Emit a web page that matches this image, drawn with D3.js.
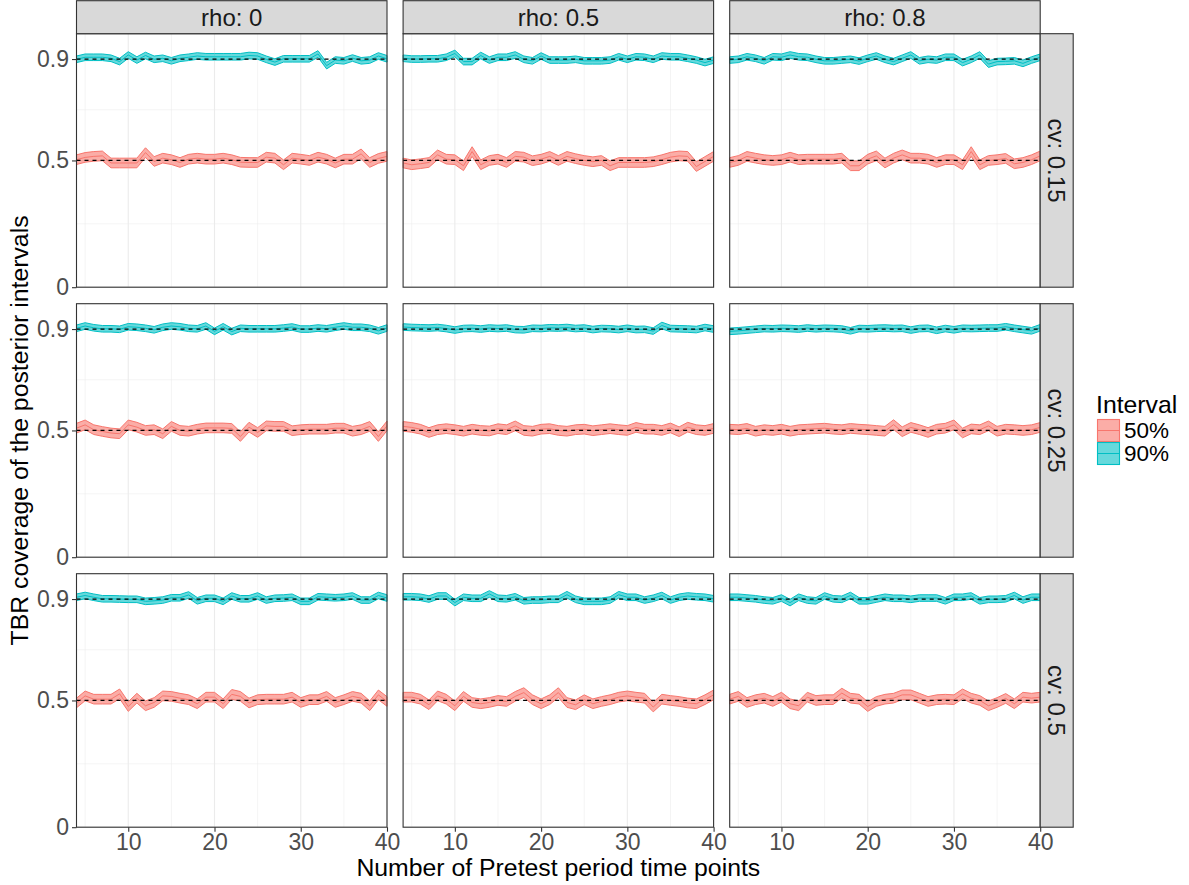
<!DOCTYPE html>
<html>
<head>
<meta charset="utf-8">
<script src="https://cdn.jsdelivr.net/npm/d3@7"></script>
<style>
  body { margin: 0; background: #fff; }
  svg { display: block; }
  text { font-family: "Liberation Sans", Arial, sans-serif; }
</style>
</head>
<body>
<svg id="chart" width="1189" height="885"></svg>
<script>

//
// Data
//

const pretestPoints = [4, 5, 6, 7, 8, 9, 10, 11, 12, 13, 14, 15, 16, 17, 18, 19, 20, 21, 22,
  23, 24, 25, 26, 27, 28, 29, 30, 31, 32, 33, 34, 35, 36, 37, 38, 39, 40];

const rhoLevels = ['0', '0.5', '0.8'];      // facet columns
const cvLevels = ['0.15', '0.25', '0.5'];   // facet rows
const intervalLevels = ['50%', '90%'];
const nominalCoverage = [0.5, 0.9];         // dashed reference lines
const bandHalfWidth = [0.019, 0.013];       // ribbon half width per interval

const xTickValues = [10, 20, 30, 40];
const xMinorValues = [5, 15, 25, 35];
const yTickValues = [0, 0.5, 0.9];
const yTickLabels = ['0', '0.5', '0.9'];
const yMinorValues = [0.25, 0.7];

// coverage of the 50% intervals
const cov50_cv015_rho0 = [.503,.512,.516,.518,.490,.490,.490,.490,.531,.496,.509,.503,.492,.505,.509,.505,.505,.509,.503,.493,.492,.492,.513,.509,.483,.509,.505,.500,.513,.505,.490,.505,.505,.526,.492,.508,.516];
const cov50_cv015_rho05 = [.490,.483,.487,.492,.522,.505,.503,.479,.535,.483,.500,.505,.492,.516,.513,.499,.505,.516,.500,.516,.507,.500,.495,.500,.479,.492,.492,.492,.492,.495,.503,.513,.518,.516,.476,.496,.516];
const cov50_cv015_rho08 = [.492,.500,.516,.509,.503,.500,.503,.513,.503,.505,.505,.505,.505,.509,.479,.479,.505,.518,.490,.509,.522,.509,.509,.505,.492,.503,.503,.483,.535,.483,.500,.503,.508,.487,.492,.503,.518];
const cov50_cv025_rho0 = [.509,.522,.503,.496,.490,.487,.522,.513,.500,.503,.487,.516,.500,.497,.505,.510,.510,.510,.508,.476,.513,.492,.518,.516,.516,.499,.503,.505,.505,.505,.509,.509,.497,.503,.516,.476,.518];
const cov50_cv025_rho05 = [.516,.512,.505,.492,.503,.507,.503,.497,.505,.500,.498,.507,.503,.518,.500,.497,.505,.507,.500,.497,.503,.505,.499,.503,.507,.503,.500,.512,.505,.505,.500,.510,.495,.513,.503,.500,.508];
const cov50_cv025_rho08 = [.505,.503,.508,.497,.503,.500,.505,.497,.503,.505,.507,.509,.505,.503,.508,.505,.503,.500,.497,.523,.495,.512,.503,.492,.505,.509,.522,.490,.506,.503,.518,.497,.505,.503,.500,.503,.512];
const cov50_cv05_rho0 = [.490,.518,.505,.505,.505,.526,.476,.509,.479,.492,.518,.516,.509,.503,.487,.513,.513,.487,.524,.516,.490,.503,.505,.505,.505,.513,.492,.503,.503,.516,.492,.503,.516,.509,.479,.522,.496];
const cov50_cv05_rho05 = [.513,.513,.505,.483,.518,.505,.479,.516,.492,.487,.492,.500,.496,.516,.531,.503,.487,.503,.531,.492,.483,.503,.487,.496,.503,.513,.518,.513,.509,.474,.505,.500,.496,.490,.487,.503,.522];
const cov50_cv05_rho08 = [.505,.516,.492,.503,.509,.496,.513,.487,.479,.513,.500,.503,.503,.529,.509,.505,.476,.496,.505,.509,.522,.522,.509,.496,.503,.505,.503,.526,.509,.500,.479,.492,.508,.487,.513,.509,.513];

// coverage of the 90% intervals
const cov90_cv015_rho0 = [.899,.907,.907,.907,.903,.890,.916,.896,.914,.899,.903,.893,.903,.907,.912,.909,.909,.909,.909,.909,.914,.912,.899,.888,.901,.901,.901,.901,.920,.874,.896,.893,.904,.893,.896,.912,.901];
const cov90_cv015_rho05 = [.903,.900,.900,.901,.901,.907,.922,.890,.890,.914,.896,.907,.907,.916,.899,.893,.912,.896,.896,.896,.899,.893,.893,.893,.896,.909,.899,.909,.907,.899,.912,.909,.909,.903,.896,.886,.896];
const cov90_cv015_rho08 = [.896,.899,.909,.903,.893,.909,.907,.916,.909,.907,.899,.893,.893,.896,.899,.892,.903,.912,.899,.890,.903,.916,.893,.899,.896,.907,.907,.886,.899,.916,.880,.890,.891,.893,.883,.896,.907];
const cov90_cv025_rho0 = [.903,.912,.905,.901,.901,.899,.909,.907,.903,.897,.907,.912,.909,.903,.901,.912,.891,.909,.890,.903,.901,.901,.901,.901,.904,.908,.900,.900,.904,.901,.907,.912,.907,.907,.903,.893,.904];
const cov90_cv025_rho05 = [.908,.906,.905,.904,.906,.902,.896,.902,.903,.900,.904,.902,.904,.898,.897,.903,.902,.905,.904,.906,.902,.904,.898,.902,.901,.898,.903,.898,.899,.892,.914,.902,.901,.900,.898,.906,.900];
const cov90_cv025_rho08 = [.891,.893,.896,.899,.902,.901,.903,.902,.900,.904,.901,.903,.902,.900,.893,.902,.901,.903,.904,.902,.903,.896,.902,.903,.895,.902,.897,.903,.902,.903,.904,.904,.909,.903,.898,.893,.905];
const cov90_cv05_rho0 = [.907,.914,.907,.901,.901,.900,.899,.899,.891,.893,.896,.905,.905,.916,.893,.903,.903,.891,.912,.901,.901,.912,.896,.903,.904,.907,.891,.891,.909,.907,.905,.907,.912,.896,.896,.914,.904];
const cov90_cv05_rho05 = [.909,.909,.907,.900,.912,.912,.886,.907,.903,.903,.920,.903,.901,.909,.893,.896,.896,.899,.899,.917,.899,.891,.891,.891,.896,.917,.907,.907,.896,.903,.914,.896,.907,.912,.909,.907,.901];
const cov90_cv05_rho08 = [.907,.907,.904,.901,.896,.893,.904,.886,.907,.896,.893,.912,.901,.899,.914,.893,.893,.900,.907,.903,.903,.899,.904,.904,.904,.893,.907,.907,.912,.893,.899,.899,.901,.914,.896,.907,.907];

// [row][col] -> [50% series, 90% series]
const panelSeries = [
  [[cov50_cv015_rho0, cov90_cv015_rho0], [cov50_cv015_rho05, cov90_cv015_rho05], [cov50_cv015_rho08, cov90_cv015_rho08]],
  [[cov50_cv025_rho0, cov90_cv025_rho0], [cov50_cv025_rho05, cov90_cv025_rho05], [cov50_cv025_rho08, cov90_cv025_rho08]],
  [[cov50_cv05_rho0, cov90_cv05_rho0], [cov50_cv05_rho05, cov90_cv05_rho05], [cov50_cv05_rho08, cov90_cv05_rho08]]
];

//
// Configuration
//

const colorInterval = ['#F8766D', '#00BFC4'];
const colorBorder = '#333333';
const colorGrid = '#EBEBEB';
const colorStrip = '#D9D9D9';
const colorTickText = '#4D4D4D';

const fontTick = 23, fontStrip = 24, fontTitle = 24.8;

const panelW = 310.5, panelH = 253.5;
const gapX = 16.1, gapY = 16.5;
const marginLeft = 76.5, marginTop = 33.7;
const stripSize = 33;

const svg = d3.select('#chart');

const x = d3.scaleLinear().domain([4, 40]).range([0, panelW]);
const y = d3.scaleLinear().domain([0, 1]).range([panelH, 0]);

const area = d3.area()
    .x((d) => x(d.x))
    .y0((d) => y(d.v - d.h))
    .y1((d) => y(d.v + d.h));

const line = d3.line()
    .x((d) => x(d.x))
    .y((d) => y(d.v));

//
// Panels
//

cvLevels.forEach((cv, row) => {
  rhoLevels.forEach((rho, col) => {

    const px = marginLeft + col * (panelW + gapX);
    const py = marginTop + row * (panelH + gapY);
    const g = svg.append('g').attr('transform', `translate(${px},${py})`);

    // grid
    g.selectAll('.gxm').data(xMinorValues).join('line')
        .attr('x1', x).attr('x2', x).attr('y1', 0).attr('y2', panelH)
        .attr('stroke', colorGrid).attr('stroke-width', 0.55);
    g.selectAll('.gym').data(yMinorValues).join('line')
        .attr('x1', 0).attr('x2', panelW).attr('y1', y).attr('y2', y)
        .attr('stroke', colorGrid).attr('stroke-width', 0.55);
    g.selectAll('.gx').data(xTickValues).join('line')
        .attr('x1', x).attr('x2', x).attr('y1', 0).attr('y2', panelH)
        .attr('stroke', colorGrid).attr('stroke-width', 1.1);
    g.selectAll('.gy').data(yTickValues).join('line')
        .attr('x1', 0).attr('x2', panelW).attr('y1', y).attr('y2', y)
        .attr('stroke', colorGrid).attr('stroke-width', 1.1);

    // ribbons and estimate lines
    intervalLevels.forEach((lvl, k) => {
      const pts = pretestPoints.map((p, i) => ({x: p, v: panelSeries[row][col][k][i], h: bandHalfWidth[k]}));
      g.append('path').attr('d', area(pts))
          .attr('fill', colorInterval[k]).attr('fill-opacity', 0.6)
          .attr('stroke', colorInterval[k]).attr('stroke-width', 1)
          .attr('stroke-linejoin', 'round');
      g.append('path').attr('d', line(pts))
          .attr('fill', 'none')
          .attr('stroke', colorInterval[k]).attr('stroke-width', 1);
    });

    // nominal coverage
    g.selectAll('.nom').data(nominalCoverage).join('line')
        .attr('x1', 0).attr('x2', panelW).attr('y1', y).attr('y2', y)
        .attr('stroke', '#000').attr('stroke-width', 1.3)
        .attr('stroke-dasharray', '4,4');

    g.append('rect').attr('width', panelW).attr('height', panelH)
        .attr('fill', 'none').attr('stroke', colorBorder).attr('stroke-width', 1.1);

    // top strips
    if (row === 0) {
      g.append('rect').attr('x', 0).attr('y', -stripSize).attr('width', panelW).attr('height', stripSize)
          .attr('fill', colorStrip).attr('stroke', colorBorder).attr('stroke-width', 1.1);
      g.append('text').attr('x', panelW / 2).attr('y', -stripSize / 2 + 8.5)
          .attr('text-anchor', 'middle').attr('font-size', fontStrip).attr('fill', '#1A1A1A')
          .text(`rho: ${rho}`);
    }

    // right strips
    if (col === rhoLevels.length - 1) {
      g.append('rect').attr('x', panelW).attr('y', 0).attr('width', stripSize).attr('height', panelH)
          .attr('fill', colorStrip).attr('stroke', colorBorder).attr('stroke-width', 1.1);
      g.append('text')
          .attr('transform', `translate(${panelW + stripSize / 2 - 8.5},${panelH / 2}) rotate(90)`)
          .attr('text-anchor', 'middle').attr('font-size', fontStrip).attr('fill', '#1A1A1A')
          .text(`cv: ${cv}`);
    }

    // axes
    if (col === 0) {
      const ax = g.append('g').call(d3.axisLeft(y).tickValues(yTickValues)
          .tickFormat((d, i) => yTickLabels[i]).tickSize(4.5).tickPadding(3));
      ax.select('.domain').remove();
      ax.selectAll('line').attr('stroke', colorBorder).attr('stroke-width', 1.1);
      ax.selectAll('text').attr('font-size', fontTick).attr('fill', colorTickText)
          .attr('font-family', '"Liberation Sans", Arial, sans-serif');
    }
    if (row === cvLevels.length - 1) {
      const ax = g.append('g').attr('transform', `translate(0,${panelH})`)
          .call(d3.axisBottom(x).tickValues(xTickValues).tickSize(4.5).tickPadding(2));
      ax.select('.domain').remove();
      ax.selectAll('line').attr('stroke', colorBorder).attr('stroke-width', 1.1);
      ax.selectAll('text').attr('font-size', fontTick).attr('fill', colorTickText)
          .attr('font-family', '"Liberation Sans", Arial, sans-serif');
    }
  });
});

//
// Titles
//

const plotW = 3 * panelW + 2 * gapX;
const plotH = 3 * panelH + 2 * gapY;

svg.append('text')
    .attr('x', marginLeft + plotW / 2).attr('y', 876)
    .attr('text-anchor', 'middle').attr('font-size', fontTitle).attr('fill', '#000')
    .text('Number of Pretest period time points');

svg.append('text')
    .attr('transform', `translate(28,${marginTop + plotH / 2}) rotate(-90)`)
    .attr('text-anchor', 'middle').attr('font-size', fontTitle).attr('fill', '#000')
    .text('TBR coverage of the posterior intervals');

//
// Legend
//

const legend = svg.append('g').attr('transform', 'translate(1097,0)');
legend.append('text').attr('x', -1).attr('y', 413)
    .attr('font-size', fontTitle).attr('fill', '#000').text('Interval');

intervalLevels.forEach((lvl, k) => {
  const ky = 419 + k * 23;
  legend.append('rect').attr('x', 0.5).attr('y', ky + 0.5).attr('width', 22).attr('height', 22)
      .attr('fill', colorInterval[k]).attr('fill-opacity', 0.6)
      .attr('stroke', colorInterval[k]).attr('stroke-width', 1.1);
  legend.append('line').attr('x1', 0.5).attr('x2', 22.5).attr('y1', ky + 11.5).attr('y2', ky + 11.5)
      .attr('stroke', colorInterval[k]).attr('stroke-width', 1);
  legend.append('text').attr('x', 27).attr('y', ky + 19)
      .attr('font-size', 22.5).attr('fill', '#000').text(lvl);
});

</script>
</body>
</html>
